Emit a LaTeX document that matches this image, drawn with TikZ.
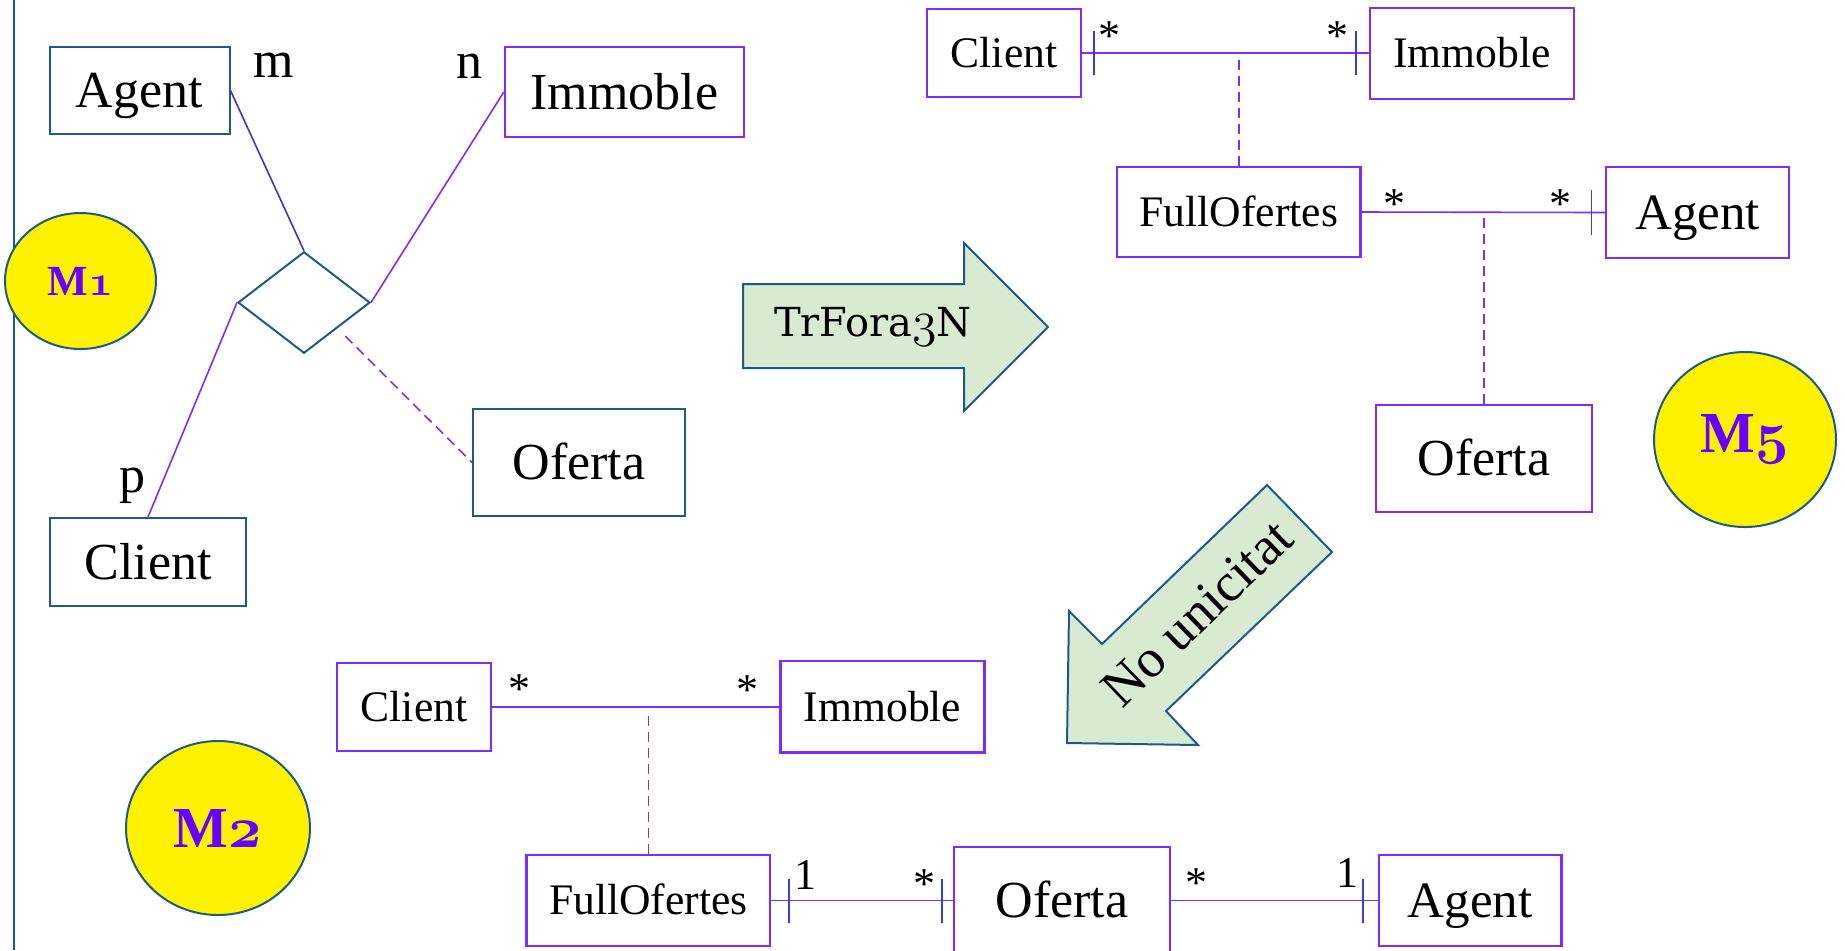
\RequirePackage{fix-cm}
\documentclass[tikz,border=0pt]{standalone}
\usepackage{fontspec}
\newfontfamily\tnr{Liberation Serif}
\newfontfamily\dvs{DejaVu Serif}
\usetikzlibrary{shapes.geometric,calc}

\definecolor{dblue}{HTML}{1C5A8A}
\definecolor{vio}{HTML}{7F2BFF}
\definecolor{tickb}{HTML}{3B3BD6}
\definecolor{lineb}{HTML}{4A2CD0}
\definecolor{mlab}{HTML}{6600FF}
\definecolor{agreen}{HTML}{D9EAD3}

\tikzset{
  box/.style={inner sep=0pt, line width=1pt, font=\tnr\fontsize{26}{30}\selectfont,
              text height=17.2pt, text depth=0pt},
  boxA/.style={box, draw=dblue},
  boxV/.style={box, draw=vio, line width=1.2pt},
  fbig/.style={font=\tnr\fontsize{25.5}{30}\selectfont, text height=16.9pt},
  fsmall/.style={font=\tnr\fontsize{21.8}{26}\selectfont, text height=14.4pt},
  link/.style={draw=vio, line width=0.8pt},
  assoc/.style={draw=vio, line width=0.8pt, dash pattern=on 5pt off 3pt},
  tickmark/.style={draw=tickb, line width=0.8pt},
  mult/.style={font=\tnr\fontsize{22}{26}\selectfont, inner sep=0pt},
  role/.style={font=\tnr\fontsize{26}{30}\selectfont, inner sep=0pt},
  badge/.style={ellipse, draw=dblue, fill=yellow, line width=1pt, inner sep=0pt, text=mlab},
  blockarrow/.style={draw=dblue, fill=agreen, line width=1pt, line join=miter},
}

\begin{document}
\begin{tikzpicture}[x=0.5pt, y=-0.5pt]
\useasboundingbox (0,0) rectangle (1845,950);
\clip (0,0) rectangle (1845,950);

% margin rule
\draw[dblue, line width=1pt] (14,0) -- (14,950);

% ---------- M1: ternary relationship ----------
\node[boxA, minimum width=90pt, minimum height=43.5pt] (ag1) at (139.5,90.5) {Agent};
\node[boxV, minimum width=119.5pt, minimum height=45pt] (im1) at (624.5,92) {Immoble};
\node[boxA, minimum width=98pt, minimum height=44pt] (cl1) at (148,562) {Client};
\node[boxA, minimum width=106pt, minimum height=53.5pt] (of1) at (579,462.5) {Oferta};
\node[diamond, draw=dblue, line width=1pt, inner sep=0pt,
      minimum width=66pt, minimum height=50.75pt] (rel) at (304,302.5) {};
\node[badge, minimum width=75.5pt, minimum height=68pt, font=\fontsize{21.5}{24}\selectfont]
  (b1) at (80.5,281) {{\tnr\bfseries M}{\boldmath$\mathnormal{1}$}};

\draw[link, draw=lineb] (ag1.east) -- (rel.north);
\draw[link] (im1.west) -- (rel.east);
\draw[link] (cl1.north) -- (rel.west);
\draw[assoc, shorten <=5.5pt] (rel.south east) -- (of1.west);

\node[role] (rm) at (274,65) {m};
\node[role] (rn) at (469,66) {n};
\node[role] (rp) at (132,486) {p};

% ---------- transformation arrow ----------
\draw[blockarrow] (743,284) -- (964,284) -- (964,243) -- (1048,327)
  -- (964,411) -- (964,368) -- (743,368) -- cycle;
\node[inner sep=0pt, font=\dvs\fontsize{20}{24}\selectfont] (tr) at (873,327)
  {TrFora{\fontsize{25}{28}\selectfont$\mathnormal{3}$}N};

% ---------- M5: association class chain ----------
\node[boxV, fsmall, minimum width=77pt, minimum height=44pt] (cl5) at (1004,53.2) {Client};
\node[boxV, fsmall, minimum width=102.25pt, minimum height=45.5pt] (im5) at (1472,53.2) {Immoble};
\node[boxV, fsmall, minimum width=121.75pt, minimum height=45pt] (fo5) at (1238.8,212) {FullOfertes};
\node[boxV, fbig, minimum width=91.5pt, minimum height=45.3pt] (ag5) at (1697.5,212.5) {Agent};
\node[boxV, minimum width=108.25pt, minimum height=53.5pt] (of5) at (1484,458.7) {Oferta};
\node[badge, minimum width=91pt, minimum height=87.5pt, font=\fontsize{29}{32}\selectfont]
  (b5) at (1745,439.5) {{\tnr\bfseries M}{\boldmath$\mathnormal{5}$}};

\draw[link] (cl5.east) -- (im5.west);
\draw[link] (fo5.east) -- (ag5.west);
\draw[assoc, shorten >=1.5pt] (fo5.north) -- (fo5.north |- cl5.east);
\draw[assoc, shorten >=1pt] (of5.north) -- (of5.north |- fo5.east);

\draw[tickmark] ($(cl5.east)+(12,-22)$) -- ($(cl5.east)+(12,22)$);
\draw[tickmark] ($(im5.west)+(-12.5,-22)$) -- ($(im5.west)+(-12.5,22)$);
\draw[tickmark] ($(ag5.west)+(-13.4,-22.5)$) -- ($(ag5.west)+(-13.4,22.5)$);

\node[mult] (s51) at (1109,36) {*};
\node[mult] (s52) at (1337,36) {*};
\node[mult] (s53) at (1394,204) {*};
\node[mult] (s54) at (1560,204) {*};

% ---------- "No unicitat" arrow ----------
\draw[blockarrow] (1267,485) -- (1332,552) -- (1166,711) -- (1198,745)
  -- (1067,743) -- (1069,611) -- (1102,644) -- cycle;
\node[rotate=44, inner sep=0pt, font=\tnr\fontsize{27}{30}\selectfont] (nu) at (1197,613) {No unicitat};

% ---------- M2: reified offer ----------
\node[boxV, fsmall, minimum width=77.25pt, minimum height=44pt] (cl2) at (414,706.7) {Client};
\node[boxV, fsmall, minimum width=102pt, minimum height=45.7pt] (im2) at (882.6,706.7) {Immoble};
\node[boxV, fsmall, minimum width=121.7pt, minimum height=45.35pt] (fo2) at (648.3,900.5) {FullOfertes};
\node[boxV, minimum width=108pt, minimum height=53.5pt] (of2) at (1061.9,900.5) {Oferta};
\node[boxV, fbig, minimum width=91.25pt, minimum height=45.5pt] (ag2) at (1470.2,900.5) {Agent};
\node[badge, minimum width=92pt, minimum height=87pt, font=\fontsize{29}{32}\selectfont]
  (b2) at (218,828) {{\tnr\bfseries M}{\boldmath$\mathnormal{2}$}};

\draw[link] (cl2.east) -- (im2.west);
\draw[assoc, shorten >=3pt] (fo2.north) -- (fo2.north |- cl2.east);
\draw[link] (fo2.east) -- (of2.west);
\draw[link] (of2.east) -- (ag2.west);

\draw[tickmark] ($(fo2.east)+(18,-22)$) -- ($(fo2.east)+(18,22)$);
\draw[tickmark] ($(of2.west)+(-11,-22)$) -- ($(of2.west)+(-11,22)$);
\draw[tickmark] ($(ag2.west)+(-15,-22)$) -- ($(ag2.west)+(-15,22)$);

\node[mult] (s21) at (519,689) {*};
\node[mult] (s22) at (747.5,690) {*};
\node[mult] (n23) at (805,875) {1};
\node[mult] (s24) at (924,884) {*};
\node[mult] (s25) at (1196.5,883) {*};
\node[mult] (n26) at (1347,873) {1};
\end{tikzpicture}
\end{document}
